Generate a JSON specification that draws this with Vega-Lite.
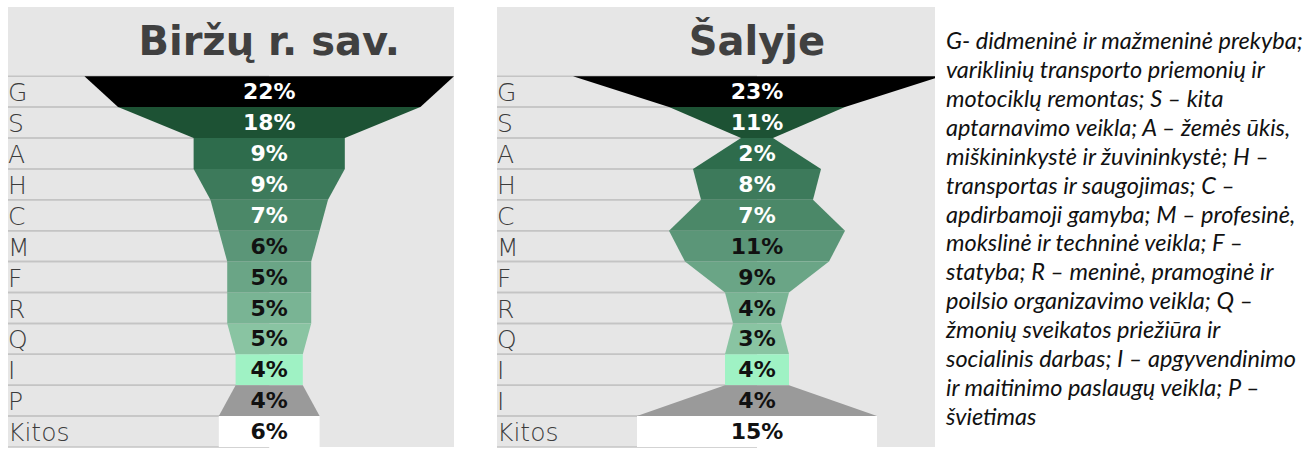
{
  "$schema": "https://vega.github.io/schema/vega-lite/v6.json",
  "background": "white",
  "padding": {"left": 7, "top": 7, "right": 0, "bottom": 0},
  "bounds": "flush",
  "spacing": 11,
  "config": {"view": {"stroke": null}, "axis": {"disable": true}, "legend": {"disable": true}},
  "datasets": {
    "rows": [
      {"p": "Biržų r. sav.", "i": 0, "cat": "G", "share": 0.22},
      {"p": "Biržų r. sav.", "i": 1, "cat": "S", "share": 0.18},
      {"p": "Biržų r. sav.", "i": 2, "cat": "A", "share": 0.09},
      {"p": "Biržų r. sav.", "i": 3, "cat": "H", "share": 0.09},
      {"p": "Biržų r. sav.", "i": 4, "cat": "C", "share": 0.07},
      {"p": "Biržų r. sav.", "i": 5, "cat": "M", "share": 0.06},
      {"p": "Biržų r. sav.", "i": 6, "cat": "F", "share": 0.05},
      {"p": "Biržų r. sav.", "i": 7, "cat": "R", "share": 0.05},
      {"p": "Biržų r. sav.", "i": 8, "cat": "Q", "share": 0.05},
      {"p": "Biržų r. sav.", "i": 9, "cat": "I", "share": 0.04},
      {"p": "Biržų r. sav.", "i": 10, "cat": "P", "share": 0.04},
      {"p": "Biržų r. sav.", "i": 11, "cat": "Kitos", "share": 0.06},
      {"p": "Šalyje", "i": 0, "cat": "G", "share": 0.23},
      {"p": "Šalyje", "i": 1, "cat": "S", "share": 0.11},
      {"p": "Šalyje", "i": 2, "cat": "A", "share": 0.02},
      {"p": "Šalyje", "i": 3, "cat": "H", "share": 0.08},
      {"p": "Šalyje", "i": 4, "cat": "C", "share": 0.07},
      {"p": "Šalyje", "i": 5, "cat": "M", "share": 0.11},
      {"p": "Šalyje", "i": 6, "cat": "F", "share": 0.09},
      {"p": "Šalyje", "i": 7, "cat": "R", "share": 0.04},
      {"p": "Šalyje", "i": 8, "cat": "Q", "share": 0.03},
      {"p": "Šalyje", "i": 9, "cat": "I", "share": 0.04},
      {"p": "Šalyje", "i": 10, "cat": "I", "share": 0.04},
      {"p": "Šalyje", "i": 11, "cat": "Kitos", "share": 0.15}
    ],
    "edges": [
      {"p": "Biržų r. sav.", "i": 0, "y": 0, "lo": -22, "hi": 22},
      {"p": "Biržų r. sav.", "i": 0, "y": 1, "lo": -18, "hi": 18},
      {"p": "Biržų r. sav.", "i": 1, "y": 1, "lo": -18, "hi": 18},
      {"p": "Biržų r. sav.", "i": 1, "y": 2, "lo": -9, "hi": 9},
      {"p": "Biržų r. sav.", "i": 2, "y": 2, "lo": -9, "hi": 9},
      {"p": "Biržų r. sav.", "i": 2, "y": 3, "lo": -9, "hi": 9},
      {"p": "Biržų r. sav.", "i": 3, "y": 3, "lo": -9, "hi": 9},
      {"p": "Biržų r. sav.", "i": 3, "y": 4, "lo": -7, "hi": 7},
      {"p": "Biržų r. sav.", "i": 4, "y": 4, "lo": -7, "hi": 7},
      {"p": "Biržų r. sav.", "i": 4, "y": 5, "lo": -6, "hi": 6},
      {"p": "Biržų r. sav.", "i": 5, "y": 5, "lo": -6, "hi": 6},
      {"p": "Biržų r. sav.", "i": 5, "y": 6, "lo": -5, "hi": 5},
      {"p": "Biržų r. sav.", "i": 6, "y": 6, "lo": -5, "hi": 5},
      {"p": "Biržų r. sav.", "i": 6, "y": 7, "lo": -5, "hi": 5},
      {"p": "Biržų r. sav.", "i": 7, "y": 7, "lo": -5, "hi": 5},
      {"p": "Biržų r. sav.", "i": 7, "y": 8, "lo": -5, "hi": 5},
      {"p": "Biržų r. sav.", "i": 8, "y": 8, "lo": -5, "hi": 5},
      {"p": "Biržų r. sav.", "i": 8, "y": 9, "lo": -4, "hi": 4},
      {"p": "Biržų r. sav.", "i": 9, "y": 9, "lo": -4, "hi": 4},
      {"p": "Biržų r. sav.", "i": 9, "y": 10, "lo": -4, "hi": 4},
      {"p": "Biržų r. sav.", "i": 10, "y": 10, "lo": -4, "hi": 4},
      {"p": "Biržų r. sav.", "i": 10, "y": 11, "lo": -6, "hi": 6},
      {"p": "Biržų r. sav.", "i": 11, "y": 11, "lo": -6, "hi": 6},
      {"p": "Biržų r. sav.", "i": 11, "y": 12, "lo": -6, "hi": 6},
      {"p": "Šalyje", "i": 0, "y": 0, "lo": -23, "hi": 23},
      {"p": "Šalyje", "i": 0, "y": 1, "lo": -11, "hi": 11},
      {"p": "Šalyje", "i": 1, "y": 1, "lo": -11, "hi": 11},
      {"p": "Šalyje", "i": 1, "y": 2, "lo": -2, "hi": 2},
      {"p": "Šalyje", "i": 2, "y": 2, "lo": -2, "hi": 2},
      {"p": "Šalyje", "i": 2, "y": 3, "lo": -8, "hi": 8},
      {"p": "Šalyje", "i": 3, "y": 3, "lo": -8, "hi": 8},
      {"p": "Šalyje", "i": 3, "y": 4, "lo": -7, "hi": 7},
      {"p": "Šalyje", "i": 4, "y": 4, "lo": -7, "hi": 7},
      {"p": "Šalyje", "i": 4, "y": 5, "lo": -11, "hi": 11},
      {"p": "Šalyje", "i": 5, "y": 5, "lo": -11, "hi": 11},
      {"p": "Šalyje", "i": 5, "y": 6, "lo": -9, "hi": 9},
      {"p": "Šalyje", "i": 6, "y": 6, "lo": -9, "hi": 9},
      {"p": "Šalyje", "i": 6, "y": 7, "lo": -4, "hi": 4},
      {"p": "Šalyje", "i": 7, "y": 7, "lo": -4, "hi": 4},
      {"p": "Šalyje", "i": 7, "y": 8, "lo": -3, "hi": 3},
      {"p": "Šalyje", "i": 8, "y": 8, "lo": -3, "hi": 3},
      {"p": "Šalyje", "i": 8, "y": 9, "lo": -4, "hi": 4},
      {"p": "Šalyje", "i": 9, "y": 9, "lo": -4, "hi": 4},
      {"p": "Šalyje", "i": 9, "y": 10, "lo": -4, "hi": 4},
      {"p": "Šalyje", "i": 10, "y": 10, "lo": -4, "hi": 4},
      {"p": "Šalyje", "i": 10, "y": 11, "lo": -15, "hi": 15},
      {"p": "Šalyje", "i": 11, "y": 11, "lo": -15, "hi": 15},
      {"p": "Šalyje", "i": 11, "y": 12, "lo": -15, "hi": 15}
    ],
    "notes": [
      {"k": 0, "line": "G- didmeninė ir mažmeninė prekyba;"},
      {"k": 1, "line": "variklinių transporto priemonių ir"},
      {"k": 2, "line": "motociklų remontas; S – kita"},
      {"k": 3, "line": "aptarnavimo veikla; A – žemės ūkis,"},
      {"k": 4, "line": "miškininkystė ir žuvininkystė; H –"},
      {"k": 5, "line": "transportas ir saugojimas; C –"},
      {"k": 6, "line": "apdirbamoji gamyba; M – profesinė,"},
      {"k": 7, "line": "mokslinė ir techninė veikla; F –"},
      {"k": 8, "line": "statyba; R – meninė, pramoginė ir"},
      {"k": 9, "line": "poilsio organizavimo veikla; Q –"},
      {"k": 10, "line": "žmonių sveikatos priežiūra ir"},
      {"k": 11, "line": "socialinis darbas; I – apgyvendinimo"},
      {"k": 12, "line": "ir maitinimo paslaugų veikla; P –"},
      {"k": 13, "line": "švietimas"}
    ]
  },
  "resolve": {"scale": {"x": "independent", "y": "independent", "color": "independent"}},
  "hconcat": [
    {
      "width": 446,
      "height": 440,
      "view": {"fill": "#e6e6e6", "stroke": null},
      "layer": [
        {
          "data": {"name": "edges"},
          "transform": [{"filter": "datum.p == 'Biržų r. sav.'"}],
          "mark": {"type": "rule", "color": "#c4c4c4", "strokeWidth": 1.5},
          "encoding": {
            "y": {"field": "y", "type": "quantitative", "scale": {"domain": [-2.24, 12], "reverse": true, "nice": false, "zero": false}},
            "x": {"datum": -31.1, "type": "quantitative", "scale": {"domain": [-31.1, 22], "nice": false, "zero": false}},
            "x2": {"datum": 0}
          }
        },
        {
          "data": {"name": "edges"},
          "transform": [{"filter": "datum.p == 'Biržų r. sav.'"}],
          "mark": {"type": "area", "orient": "horizontal", "interpolate": "linear", "clip": true},
          "encoding": {
            "y": {"field": "y", "type": "quantitative"},
            "x": {"field": "lo", "type": "quantitative"},
            "x2": {"field": "hi"},
            "color": {"field": "i", "type": "nominal", "scale": {"domain": [0,1,2,3,4,5,6,7,8,9,10,11], "range": ["#000000","#1d5234","#2e6c4c","#3d7a5b","#4b8868","#5b9678","#6aa586","#79b494","#89c4a2","#9ff2c4","#9a9a9a","#ffffff"]}}
          }
        },
        {
          "data": {"name": "rows"},
          "transform": [{"filter": "datum.p == 'Biržų r. sav.'"}],
          "mark": {"type": "text", "font": "DejaVu Sans", "fontWeight": "bold", "fontSize": 22, "baseline": "middle", "align": "center", "dy": 16},
          "encoding": {
            "x": {"datum": 0, "type": "quantitative"},
            "y": {"field": "i", "type": "quantitative"},
            "text": {"field": "share", "type": "quantitative", "format": ".0%"},
            "color": {"condition": {"test": "datum.i < 5", "value": "#ffffff"}, "value": "#111111"}
          }
        },
        {
          "data": {"name": "rows"},
          "transform": [{"filter": "datum.p == 'Biržų r. sav.'"}],
          "mark": {"type": "text", "font": "DejaVu Sans", "fontWeight": 200, "fontSize": 25, "baseline": "middle", "align": "left", "dy": 17, "color": "#3c3c3c"},
          "encoding": {
            "x": {"datum": -31.1, "type": "quantitative"},
            "y": {"field": "i", "type": "quantitative"},
            "text": {"field": "cat"}
          }
        },
        {
          "data": {"name": "rows"},
          "transform": [{"filter": "datum.p == 'Biržų r. sav.' && datum.i == 0"}],
          "mark": {"type": "text", "font": "DejaVu Sans", "fontWeight": "bold", "fontSize": 40, "baseline": "alphabetic", "align": "center", "color": "#404040"},
          "encoding": {
            "x": {"datum": 0, "type": "quantitative"},
            "y": {"datum": -0.69, "type": "quantitative"},
            "text": {"field": "p"}
          }
        }
      ]
    },
    {
      "width": 21,
      "height": 440,
      "data": {"values": []},
      "mark": {"type": "text"},
      "encoding": {}
    },
    {
      "width": 438,
      "height": 440,
      "view": {"fill": "#e6e6e6", "stroke": null},
      "layer": [
        {
          "data": {"name": "edges"},
          "transform": [{"filter": "datum.p == 'Šalyje'"}],
          "mark": {"type": "rule", "color": "#c4c4c4", "strokeWidth": 1.5},
          "encoding": {
            "y": {"field": "y", "type": "quantitative", "scale": {"domain": [-2.24, 12], "reverse": true, "nice": false, "zero": false}},
            "x": {"datum": -32.5, "type": "quantitative", "scale": {"domain": [-32.5, 22.25], "nice": false, "zero": false}},
            "x2": {"datum": 0}
          }
        },
        {
          "data": {"name": "edges"},
          "transform": [{"filter": "datum.p == 'Šalyje'"}],
          "mark": {"type": "area", "orient": "horizontal", "interpolate": "linear", "clip": true},
          "encoding": {
            "y": {"field": "y", "type": "quantitative"},
            "x": {"field": "lo", "type": "quantitative"},
            "x2": {"field": "hi"},
            "color": {"field": "i", "type": "nominal", "scale": {"domain": [0,1,2,3,4,5,6,7,8,9,10,11], "range": ["#000000","#1d5234","#2e6c4c","#3d7a5b","#4b8868","#5b9678","#6aa586","#79b494","#89c4a2","#9ff2c4","#9a9a9a","#ffffff"]}}
          }
        },
        {
          "data": {"name": "rows"},
          "transform": [{"filter": "datum.p == 'Šalyje'"}],
          "mark": {"type": "text", "font": "DejaVu Sans", "fontWeight": "bold", "fontSize": 22, "baseline": "middle", "align": "center", "dy": 16},
          "encoding": {
            "x": {"datum": 0, "type": "quantitative"},
            "y": {"field": "i", "type": "quantitative"},
            "text": {"field": "share", "type": "quantitative", "format": ".0%"},
            "color": {"condition": {"test": "datum.i < 5", "value": "#ffffff"}, "value": "#111111"}
          }
        },
        {
          "data": {"name": "rows"},
          "transform": [{"filter": "datum.p == 'Šalyje'"}],
          "mark": {"type": "text", "font": "DejaVu Sans", "fontWeight": 200, "fontSize": 25, "baseline": "middle", "align": "left", "dy": 17, "color": "#3c3c3c"},
          "encoding": {
            "x": {"datum": -32.5, "type": "quantitative"},
            "y": {"field": "i", "type": "quantitative"},
            "text": {"field": "cat"}
          }
        },
        {
          "data": {"name": "rows"},
          "transform": [{"filter": "datum.p == 'Šalyje' && datum.i == 0"}],
          "mark": {"type": "text", "font": "DejaVu Sans", "fontWeight": "bold", "fontSize": 40, "baseline": "alphabetic", "align": "center", "color": "#404040"},
          "encoding": {
            "x": {"datum": 0, "type": "quantitative"},
            "y": {"datum": -0.69, "type": "quantitative"},
            "text": {"field": "p"}
          }
        }
      ]
    },
    {
      "width": 370,
      "height": 440,
      "data": {"name": "notes"},
      "mark": {"type": "text", "align": "left", "baseline": "alphabetic", "font": "Lato", "fontStyle": "italic", "fontSize": 23.5, "color": "#111111"},
      "encoding": {
        "x": {"datum": 0, "type": "quantitative", "scale": {"domain": [0, 370], "nice": false, "zero": false}},
        "y": {"field": "k", "type": "quantitative", "scale": {"domain": [-1.452, 13.762], "reverse": true, "nice": false, "zero": false}},
        "text": {"field": "line"}
      }
    }
  ]
}
